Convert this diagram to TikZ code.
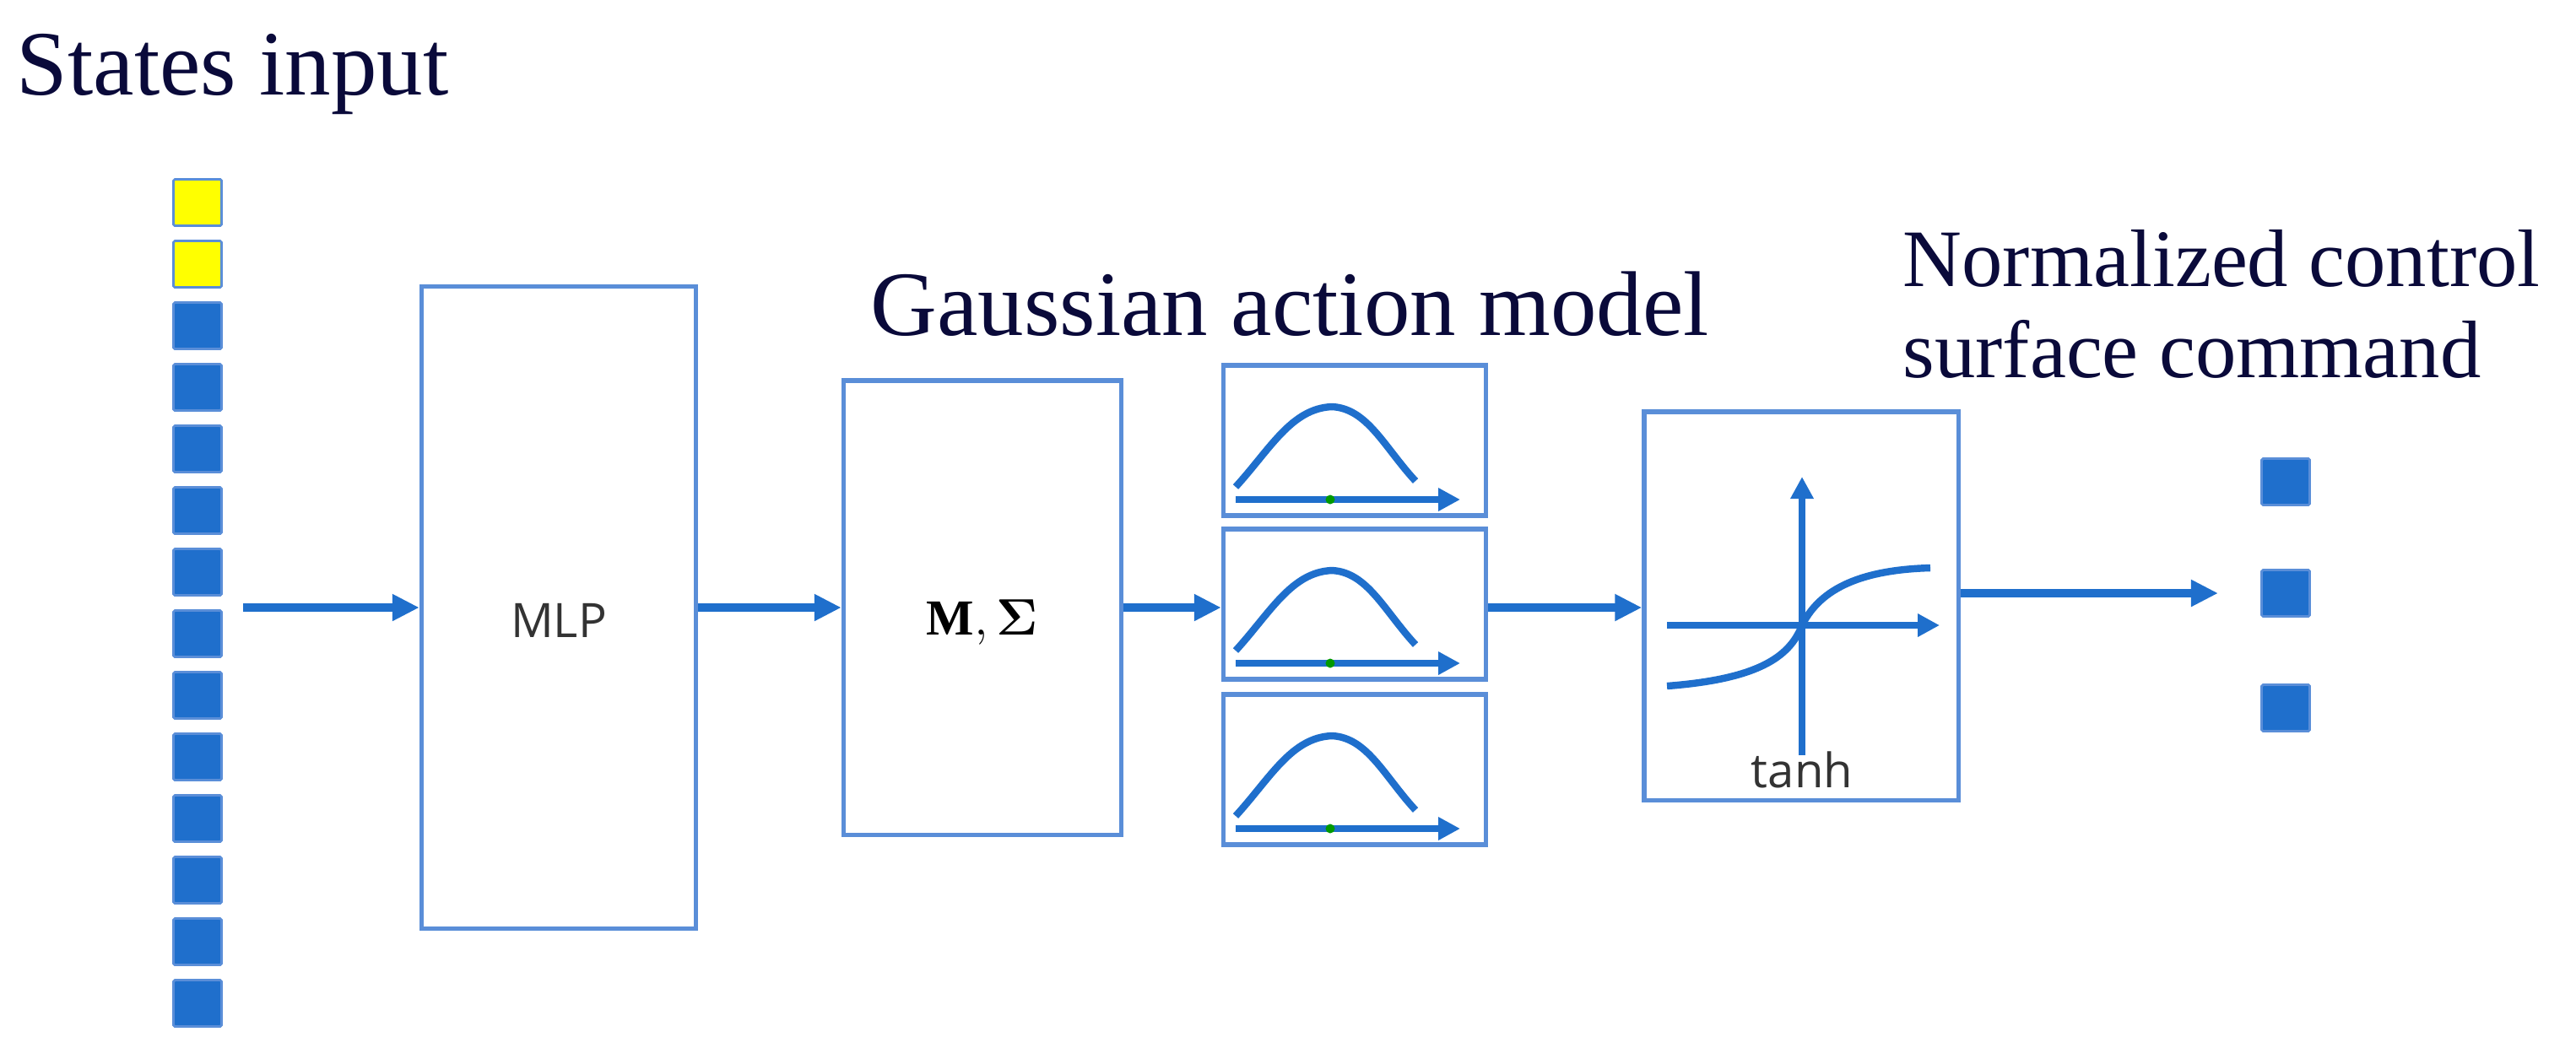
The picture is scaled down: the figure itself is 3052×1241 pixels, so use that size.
\documentclass[tikz,border=0pt]{standalone}
\usepackage{fontspec}
\usepackage{amsmath,bm}
\setmainfont{Liberation Serif}
\newfontfamily\uisans{Open Sans}
\usetikzlibrary{arrows.meta}
\definecolor{bx}{HTML}{5A8ED8}
\definecolor{bl}{HTML}{1F6FCC}
\definecolor{ye}{HTML}{FFFF00}
\definecolor{tx}{HTML}{0A0A3A}
\begin{document}
\begin{tikzpicture}[x=0.01cm,y=-0.01cm,
  box/.style={draw=bx,line width=1.5pt,inner sep=0,fill=white},
  sq/.style={draw=bx,line width=0.8pt,fill=bl,minimum width=0.57cm,minimum height=0.55cm,inner sep=0,rounded corners=0.5pt},
  ysq/.style={sq,fill=ye},
  flow/.style={draw=bl,line width=2.6pt,-{Triangle[length=0.32cm,width=0.3cm]}},
  ax/.style={draw=bl,line width=2.4pt,-{Triangle[length=0.26cm,width=0.26cm]}},
  crv/.style={draw=bl,line width=2.4pt},
  big/.style={font=\fontsize{31}{36}\selectfont,text=tx,inner sep=0},
  lab/.style={font=\uisans\fontsize{16}{18}\selectfont,text=black!80}]
\useasboundingbox (0,0) rectangle (3052,1241);
\node[big,anchor=west] (title) at (19,88) {States input};
% input column
\foreach \i in {0,...,13}{
  \ifnum\i<2 \node[ysq] (s\i) at (234,{240+\i*73}) {};
  \else \node[sq] (s\i) at (234,{240+\i*73}) {}; \fi
}
\coordinate (inA) at (288,720);
% MLP
\node[box,minimum width=3.25cm,minimum height=7.6cm] (mlp) at (662,720) {};
\node[lab] (mlpt) at (662,735) {MLP};
% M Sigma
\node[box,minimum width=3.29cm,minimum height=5.38cm] (ms) at (1164,720) {};
\node[font=\fontsize{17}{19}\selectfont] (mst) at (1164,738) {$\mathbf{M},\bm{\Sigma}$};
% gaussians
\foreach \n/\cy in {g1/522,g2/716,g3/912}{
  \node[box,minimum width=3.11cm,minimum height=1.78cm] (\n) at (1605,\cy) {};
  \draw[crv] (1464,\cy+55) .. controls (1505,\cy+10) and (1530,\cy-38) .. (1578,\cy-40)
             .. controls (1620,\cy-38) and (1640,\cy+8) .. (1677,\cy+48);
  \draw[ax] (1464,\cy+70) -- (1730,\cy+70);
  \fill[green!60!black] (1576,\cy+70) circle (0.055cm);
}
\node[big,anchor=west] (gam) at (1031,360) {Gaussian action model};
% tanh
\node[box,minimum width=3.72cm,minimum height=4.6cm] (th) at (2134,718) {};
\draw[ax] (2135,895) -- (2135,565);
\draw[ax] (1975,741) -- (2298,741);
\draw[crv] (1975,813) .. controls (2080,805) and (2120,780) .. (2135,741)
           .. controls (2160,690) and (2220,675) .. (2287,673);
\node[lab] (tht) at (2135,912) {tanh};
% outputs
\node[sq] (o1) at (2708,571) {};
\node[sq] (o2) at (2708,703) {};
\node[sq] (o3) at (2708,839) {};
\node[big,anchor=north west,align=left,font=\fontsize{27.5}{30.5}\selectfont] (nc) at (2254,272) {Normalized control\\surface command};
% flows
\draw[flow] (inA) -- (mlp.west |- inA);
\draw[flow] (mlp.east |- inA) -- (ms.west |- inA);
\draw[flow] (ms.east |- inA) -- (g2.west |- inA);
\draw[flow] (g2.east |- inA) -- (th.west |- inA);
\draw[flow] (th.east |- o2) -- ([xshift=-0.8cm]o2.center);
\end{tikzpicture}
\end{document}
